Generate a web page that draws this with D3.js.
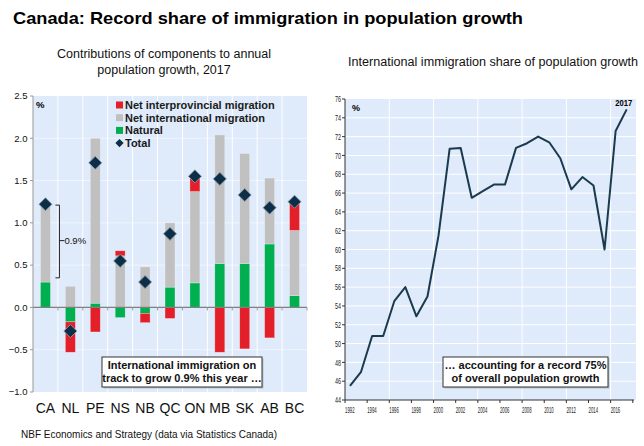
<!DOCTYPE html>
<html>
<head>
<meta charset="utf-8">
<script src="https://cdn.jsdelivr.net/npm/d3@7"></script>
<style>
  body { margin: 0; background: #fff; }
  text { font-family: "Liberation Sans", Arial, sans-serif; }
</style>
</head>
<body>
<script>
// left panel: contributions to population growth, 2017 (%)
var provinces = ["CA", "NL", "PE", "NS", "NB", "QC", "ON", "MB", "SK", "AB", "BC"];
var natural = [0.30, -0.17, 0.05, -0.12, -0.07, 0.24, 0.29, 0.52, 0.52, 0.75, 0.14];
var international = [0.92, 0.25, 1.95, 0.61, 0.48, 0.76, 1.08, 1.52, 1.30, 0.78, 0.77];
var interprovincial = [0, -0.36, -0.29, 0.06, -0.11, -0.13, 0.18, -0.53, -0.49, -0.36, 0.33];
var total = [1.22, -0.28, 1.71, 0.55, 0.30, 0.87, 1.55, 1.52, 1.33, 1.18, 1.25];
var leftTicks = [-1.0, -0.5, 0.0, 0.5, 1.0, 1.5, 2.0, 2.5];

// right panel: immigration share of population growth (%)
var years = [1992, 1993, 1994, 1995, 1996, 1997, 1998, 1999, 2000, 2001, 2002, 2003, 2004,
             2005, 2006, 2007, 2008, 2009, 2010, 2011, 2012, 2013, 2014, 2015, 2016, 2017];
var share = [45.5, 47.0, 50.8, 50.8, 54.5, 56.0, 52.9, 55.0, 61.5, 70.7, 70.8, 65.5, 66.2,
             66.9, 66.9, 70.8, 71.3, 72.0, 71.4, 69.7, 66.4, 67.7, 66.8, 60.0, 72.6, 74.9];
var yearLabels = [1992, 1994, 1996, 1998, 2000, 2002, 2004, 2006, 2008, 2010, 2012, 2014, 2016];
var rightTicks = d3.range(44, 77, 2);

var colors = { natural: "#00b050", international: "#c0c0c0", interprovincial: "#e3202a" };
var plotBg = "#dfeafa";
var navy = "#0c2e47";

var svg = d3.select("body").append("svg")
  .attr("width", 644)
  .attr("height", 446);

svg.append("text").attr("x", 13).attr("y", 24)
  .attr("font-size", 17).attr("font-weight", "bold")
  .attr("textLength", 510).attr("lengthAdjust", "spacingAndGlyphs")
  .text("Canada: Record share of immigration in population growth");

svg.append("text").attr("x", 164).attr("y", 58).attr("text-anchor", "middle")
  .attr("font-size", 12.5).attr("fill", "#111")
  .text("Contributions of components to annual");
svg.append("text").attr("x", 164).attr("y", 74).attr("text-anchor", "middle")
  .attr("font-size", 12.5).attr("fill", "#111")
  .text("population growth, 2017");
svg.append("text").attr("x", 348).attr("y", 66)
  .attr("font-size", 12.5).attr("fill", "#111")
  .attr("textLength", 290).attr("lengthAdjust", "spacingAndGlyphs")
  .text("International immigration share of population growth");

svg.append("text").attr("x", 21).attr("y", 438)
  .attr("font-size", 10.5).attr("fill", "#111")
  .attr("textLength", 256).attr("lengthAdjust", "spacingAndGlyphs")
  .text("NBF Economics and Strategy (data via Statistics Canada)");

// ---------- left chart ----------
var x = d3.scaleBand().domain(provinces).range([33, 307]).paddingInner(0.6).paddingOuter(0.3);
var y = d3.scaleLinear().domain([-1, 2.5]).range([392, 96]);

var left = svg.append("g");

left.append("rect").attr("x", 33).attr("y", y(2.5))
  .attr("width", 274).attr("height", y(-1) - y(2.5)).attr("fill", plotBg);

// white grid: separators between provinces and every 0.5
left.selectAll(".vgrid").data(d3.range(1, provinces.length))
  .enter().append("line")
  .attr("x1", function(i) { return 33 + i * x.step(); })
  .attr("x2", function(i) { return 33 + i * x.step(); })
  .attr("y1", y(2.5)).attr("y2", y(-1))
  .attr("stroke", "#fff").attr("stroke-width", 1);
left.selectAll(".hgrid").data(leftTicks.slice(1, -1))
  .enter().append("line")
  .attr("x1", 33).attr("x2", 307)
  .attr("y1", function(d) { return y(d); }).attr("y2", function(d) { return y(d); })
  .attr("stroke", "#fff").attr("stroke-width", 0.8).attr("stroke-opacity", 0.7);

var rows = provinces.map(function(p, i) {
  return { prov: p, natural: natural[i], international: international[i], interprovincial: interprovincial[i] };
});
var stacked = d3.stack()
  .keys(["natural", "international", "interprovincial"])
  .offset(d3.stackOffsetDiverging)(rows);

left.selectAll(".layer").data(stacked)
  .enter().append("g")
  .attr("fill", function(d) { return colors[d.key]; })
  .selectAll("rect").data(function(d) { return d; })
  .enter().append("rect")
  .attr("x", function(d) { return x(d.data.prov); })
  .attr("width", x.bandwidth())
  .attr("y", function(d) { return y(Math.max(d[0], d[1])); })
  .attr("height", function(d) { return Math.abs(y(d[0]) - y(d[1])); })
  .attr("stroke", "rgba(255,255,255,0.45)").attr("stroke-width", 0.6);

// zero line with small ticks
left.append("line").attr("x1", 33).attr("x2", 307).attr("y1", y(0)).attr("y2", y(0))
  .attr("stroke", "#808080").attr("stroke-width", 1.2);
left.selectAll(".ztick").data(d3.range(1, provinces.length + 1))
  .enter().append("line")
  .attr("x1", function(i) { return 33 + i * x.step(); })
  .attr("x2", function(i) { return 33 + i * x.step(); })
  .attr("y1", y(0)).attr("y2", y(0) + 3)
  .attr("stroke", "#999");

// y axis
left.append("line").attr("x1", 33).attr("x2", 33).attr("y1", y(2.5)).attr("y2", y(-1))
  .attr("stroke", "#999");
left.selectAll(".ytick").data(leftTicks).enter().append("line")
  .attr("x1", 30).attr("x2", 33)
  .attr("y1", function(d) { return y(d); }).attr("y2", function(d) { return y(d); })
  .attr("stroke", "#999");
left.selectAll(".ylab").data(leftTicks).enter().append("text")
  .attr("x", 27.5).attr("y", function(d) { return y(d); }).attr("dy", "0.35em")
  .attr("text-anchor", "end").attr("font-size", 9.5).attr("fill", "#111")
  .text(function(d) { return d3.format(".1f")(d); });

left.selectAll(".xlab").data(provinces).enter().append("text")
  .attr("x", function(d) { return x(d) + x.bandwidth() / 2; })
  .attr("y", 413).attr("text-anchor", "middle")
  .attr("font-size", 14).attr("fill", "#111")
  .text(function(d) { return d; });

left.append("text").attr("x", 36).attr("y", 108)
  .attr("font-size", 9.5).attr("font-weight", "bold").text("%");

// bracket on Canada showing 0.9%
var bx = x("CA") + x.bandwidth() + 9;
left.append("path")
  .attr("d", "M" + (bx - 4) + "," + y(1.21) + "H" + bx + "V" + y(0.35) + "H" + (bx - 4)
    + "M" + bx + "," + y(0.79) + "H" + (bx + 5))
  .attr("fill", "none").attr("stroke", "#222").attr("stroke-width", 1);
left.append("text").attr("x", bx + 5).attr("y", y(0.79)).attr("dy", "0.35em")
  .attr("font-size", 9.5).attr("fill", "#111").text("0.9%");

// totals as diamonds
left.selectAll(".total").data(total).enter().append("path")
  .attr("d", d3.symbol(d3.symbolSquare, 86))
  .attr("transform", function(d, i) {
    return "translate(" + (x(provinces[i]) + x.bandwidth() / 2) + "," + y(d) + ") rotate(45)";
  })
  .attr("fill", navy).attr("stroke", "#8fa3b3").attr("stroke-width", 0.8);

// legend
var legend = left.append("g");
var legendItems = [
  { label: "Net interprovincial migration", color: colors.interprovincial },
  { label: "Net international migration", color: colors.international },
  { label: "Natural", color: colors.natural },
  { label: "Total", color: navy }
];
legendItems.forEach(function(d, i) {
  var cy = 105 + i * 12.7;
  if (d.label === "Total") {
    legend.append("path").attr("d", d3.symbol(d3.symbolSquare, 34))
      .attr("transform", "translate(119.5," + cy + ") rotate(45)").attr("fill", d.color);
  } else {
    legend.append("rect").attr("x", 116).attr("y", cy - 3.5).attr("width", 7).attr("height", 7)
      .attr("fill", d.color);
  }
  legend.append("text").attr("x", 125).attr("y", cy).attr("dy", "0.36em")
    .attr("font-size", 11).attr("font-weight", "bold").attr("fill", "#1a1a1a")
    .text(d.label);
});

function noteBox(g, x0, y0, w, h, lines) {
  g.append("rect").attr("x", x0 + 1.5).attr("y", y0 + 1.5).attr("width", w).attr("height", h)
    .attr("fill", "#b8c2cc");
  g.append("rect").attr("x", x0).attr("y", y0).attr("width", w).attr("height", h)
    .attr("fill", "#fff").attr("stroke", "#333").attr("stroke-width", 1);
  lines.forEach(function(t, i) {
    g.append("text").attr("x", x0 + w / 2).attr("y", y0 + 12 + i * 13)
      .attr("text-anchor", "middle").attr("font-size", 11).attr("font-weight", "bold")
      .attr("fill", "#111").text(t);
  });
}
noteBox(left, 102, 357, 160, 30, ["International immigration on", "track to grow 0.9% this year \u2026"]);

// ---------- right chart ----------
var xr = d3.scaleLinear().domain([1992, 2017]).range([350, 626.7]);
var yr = d3.scaleLinear().domain([44, 76]).range([400, 99]);
var right = svg.append("g");

right.append("rect").attr("x", 345).attr("y", yr(76))
  .attr("width", 291).attr("height", yr(44) - yr(76)).attr("fill", plotBg);

right.selectAll(".hgrid").data(rightTicks.slice(1, -1)).enter().append("line")
  .attr("x1", 345).attr("x2", 636)
  .attr("y1", function(d) { return yr(d); }).attr("y2", function(d) { return yr(d); })
  .attr("stroke", "#fff").attr("stroke-width", 1);
right.selectAll(".vgrid").data([1996, 2000, 2004, 2008, 2012, 2016]).enter().append("line")
  .attr("x1", function(d) { return xr(d - 0.45); }).attr("x2", function(d) { return xr(d - 0.45); })
  .attr("y1", yr(76)).attr("y2", yr(44))
  .attr("stroke", "#fff").attr("stroke-width", 1);

var line = d3.line()
  .x(function(d, i) { return xr(years[i]); })
  .y(function(d) { return yr(d); });
right.append("path").datum(share)
  .attr("d", line).attr("fill", "none")
  .attr("stroke", "#1b3a4e").attr("stroke-width", 2).attr("stroke-linejoin", "round");

// axes
right.append("line").attr("x1", 345).attr("x2", 345).attr("y1", yr(76)).attr("y2", yr(44))
  .attr("stroke", "#333");
right.append("line").attr("x1", 345).attr("x2", 634).attr("y1", yr(44)).attr("y2", yr(44))
  .attr("stroke", "#333").attr("stroke-width", 1.2);
right.selectAll(".ytick").data(rightTicks).enter().append("line")
  .attr("x1", 342).attr("x2", 345)
  .attr("y1", function(d) { return yr(d); }).attr("y2", function(d) { return yr(d); })
  .attr("stroke", "#333");
right.selectAll(".ylab").data(rightTicks).enter().append("text")
  .attr("x", 341).attr("y", function(d) { return yr(d); }).attr("dy", "0.35em")
  .attr("text-anchor", "end").attr("font-size", 9).attr("fill", "#222")
  .attr("textLength", 6).attr("lengthAdjust", "spacingAndGlyphs")
  .text(function(d) { return d; });
right.selectAll(".xtick").data(yearLabels.concat([2018])).enter().append("line")
  .attr("x1", function(d) { return xr(d - 0.45); }).attr("x2", function(d) { return xr(d - 0.45); })
  .attr("y1", yr(44)).attr("y2", yr(44) + 3)
  .attr("stroke", "#333");
right.selectAll(".xlab").data(yearLabels).enter().append("text")
  .attr("x", function(d) { return xr(d - 0.45); }).attr("y", 413)
  .attr("font-size", 9.5).attr("fill", "#222")
  .attr("textLength", 9.5).attr("lengthAdjust", "spacingAndGlyphs")
  .text(function(d) { return d; });

right.append("text").attr("x", 352).attr("y", 111)
  .attr("font-size", 9).attr("font-weight", "bold").text("%");
right.append("text").attr("x", xr(2017) - 3).attr("y", 106).attr("text-anchor", "middle")
  .attr("font-size", 9).attr("font-weight", "bold")
  .attr("textLength", 17).attr("lengthAdjust", "spacingAndGlyphs").text("2017");

noteBox(right, 443, 357, 165, 30, ["\u2026 accounting for a record 75%", "of overall population growth"]);
</script>
</body>
</html>
